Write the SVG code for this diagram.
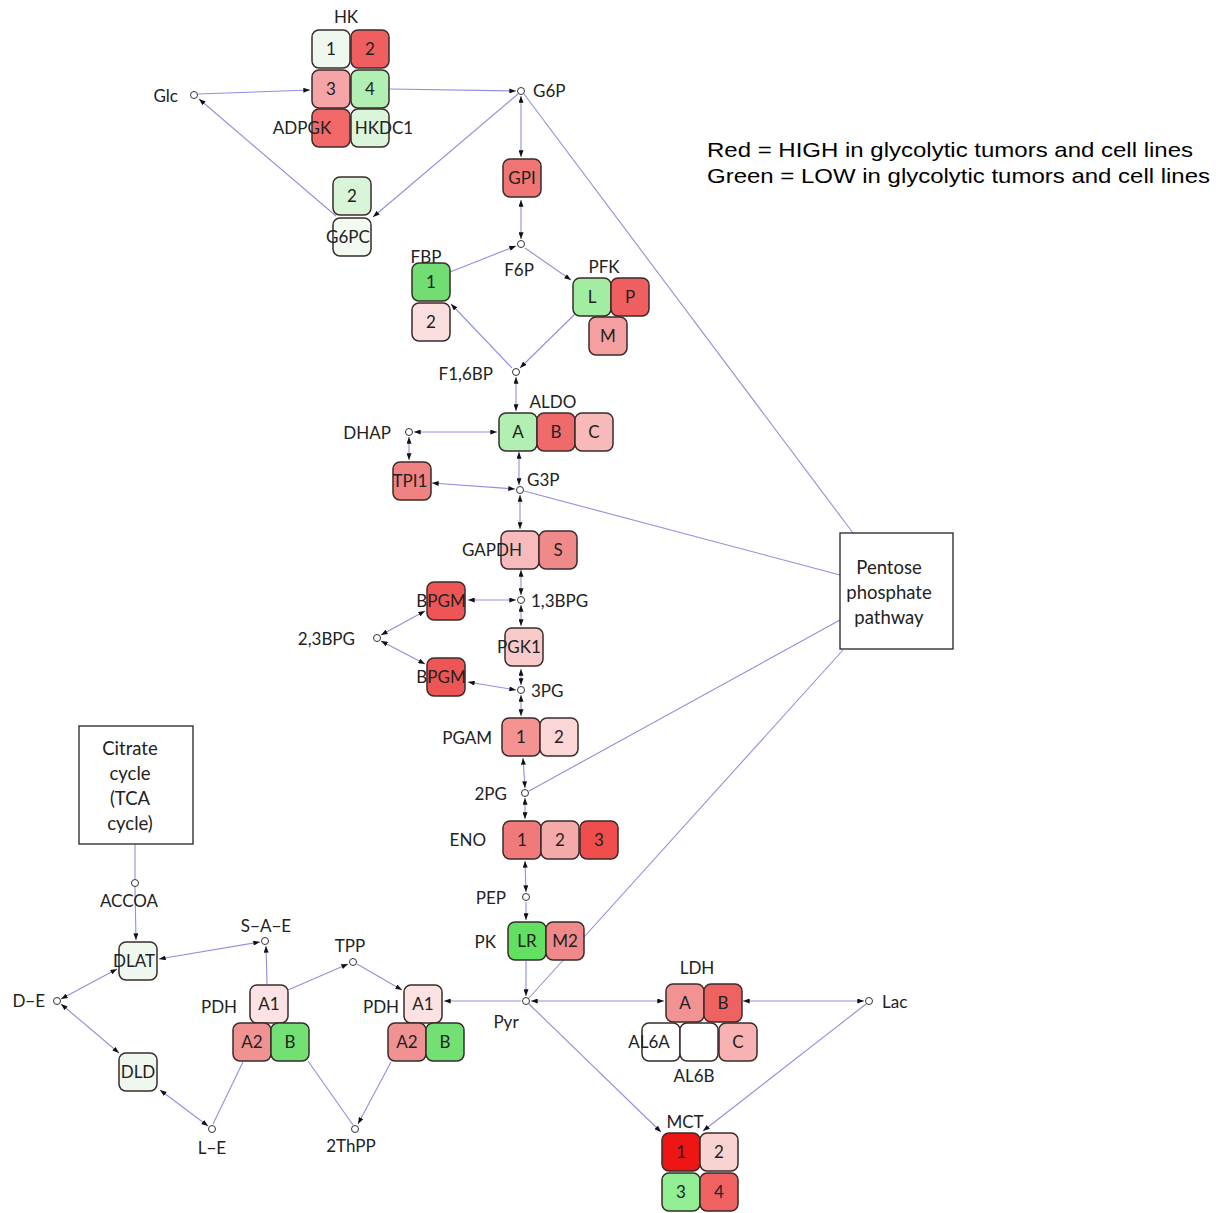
<svg xmlns="http://www.w3.org/2000/svg" width="1229" height="1213" viewBox="0 0 1229 1213">
<style>
.b{stroke:#3a2b2b;stroke-width:1.5}
.t{font-family:Lato,"Liberation Sans",sans-serif;font-size:17px;fill:#222;text-anchor:middle}
.bx{font-size:18.5px}
.s{text-anchor:start}
.n{text-anchor:end}
.c{fill:#fff;stroke:#333;stroke-width:1}
.e{stroke:#8f8fe0;stroke-width:1.1;fill:none}
.a{marker-end:url(#ah)}
.d{marker-end:url(#ah);marker-start:url(#ah)}
.p{fill:#fff;stroke:#222;stroke-width:1.3}
.lg{font-family:"Liberation Sans",Arial,sans-serif;font-size:21px;fill:#000}
</style>
<defs>
<marker id="ah" viewBox="0 0 8 6" refX="8" refY="3" markerWidth="7" markerHeight="5" orient="auto-start-reverse" markerUnits="userSpaceOnUse"><path d="M0,0 L8,3 L0,6 z" fill="#111"/></marker>
</defs>
<rect width="1229" height="1213" fill="#fff"/>
<g id="connectors">
<path class="e a" d="M198,94 L310,90"/>
<path class="e a" d="M390,89 L516,91"/>
<path class="e a" d="M518,94 L373,217"/>
<path class="e a" d="M336,216 L199,99"/>
<path class="e d" d="M521,96 L521,157"/>
<path class="e d" d="M521,200 L521,239"/>
<path class="e a" d="M450,272 L516,246"/>
<path class="e a" d="M525,248 L571,280"/>
<path class="e a" d="M575,314 L520,368"/>
<path class="e a" d="M512,368 L451,304"/>
<path class="e d" d="M516,377 L516,411"/>
<path class="e d" d="M414,432 L497,432"/>
<path class="e d" d="M409,437 L409,460"/>
<path class="e d" d="M519,452 L519,485"/>
<path class="e d" d="M432,483 L515,489"/>
<path class="e d" d="M520,495 L520,529"/>
<path class="e" d="M524,491 L840,575"/>
<path class="e" d="M524,94 L853,533"/>
<path class="e d" d="M521,570 L521,595"/>
<path class="e d" d="M468,600 L516,600"/>
<path class="e d" d="M521,605 L521,626"/>
<path class="e d" d="M381,635 L425,611"/>
<path class="e d" d="M381,641 L425,664"/>
<path class="e d" d="M468,682 L516,690"/>
<path class="e d" d="M521,669 L521,685"/>
<path class="e d" d="M521,695 L521,716"/>
<path class="e d" d="M523,758 L525,788"/>
<path class="e" d="M529,791 L840,620"/>
<path class="e d" d="M525,798 L525,819"/>
<path class="e d" d="M525,861 L526,892"/>
<path class="e a" d="M526,902 L526,920"/>
<path class="e a" d="M526,961 L526,996"/>
<path class="e" d="M529,998 L843,650"/>
<path class="e a" d="M521,1001 L444,1001"/>
<path class="e d" d="M531,1001 L664,1001"/>
<path class="e d" d="M743,1001 L864,1001"/>
<path class="e a" d="M529,1004 L661,1132"/>
<path class="e a" d="M866,1004 L703,1131"/>
<path class="e" d="M135,844 L135,879"/>
<path class="e a" d="M135,887 L136,940"/>
<path class="e d" d="M260,942 L159,959"/>
<path class="e a" d="M267,984 L266,946"/>
<path class="e a" d="M288,990 L348,964"/>
<path class="e a" d="M357,964 L402,990"/>
<path class="e d" d="M61,999 L117,969"/>
<path class="e d" d="M61,1004 L119,1053"/>
<path class="e d" d="M160,1090 L208,1126"/>
<path class="e" d="M243,1062 L213,1124"/>
<path class="e" d="M308,1061 L353,1125"/>
<path class="e a" d="M391,1062 L358,1124"/>
</g>
<g id="metabolites">
<circle class="c" cx="194" cy="95" r="3.5"/><text class="t n" x="178" y="102">Glc</text>
<circle class="c" cx="521" cy="91" r="3.5"/><text class="t s" x="533" y="97">G6P</text>
<circle class="c" cx="521" cy="244" r="3.5"/><text class="t" x="519" y="276">F6P</text>
<circle class="c" cx="516" cy="372" r="3.5"/><text class="t n" x="493" y="380">F1,6BP</text>
<circle class="c" cx="409" cy="432" r="3.5"/><text class="t n" x="391" y="439">DHAP</text>
<circle class="c" cx="520" cy="490" r="3.5"/><text class="t s" x="527" y="486">G3P</text>
<circle class="c" cx="521" cy="600" r="3.5"/><text class="t s" x="531" y="607">1,3BPG</text>
<circle class="c" cx="377" cy="638" r="3.5"/><text class="t n" x="355" y="645">2,3BPG</text>
<circle class="c" cx="521" cy="690" r="3.5"/><text class="t s" x="531" y="697">3PG</text>
<circle class="c" cx="525" cy="793" r="3.5"/><text class="t n" x="507" y="800">2PG</text>
<circle class="c" cx="526" cy="897" r="3.5"/><text class="t n" x="506" y="904">PEP</text>
<circle class="c" cx="526" cy="1001" r="3.5"/><text class="t" x="506" y="1028">Pyr</text>
<circle class="c" cx="869" cy="1001" r="3.5"/><text class="t s" x="882" y="1008">Lac</text>
<circle class="c" cx="135" cy="883" r="3.5"/><text class="t" x="129" y="907">ACCOA</text>
<circle class="c" cx="265" cy="941" r="3.5"/><text class="t" x="266" y="932">S−A−E</text>
<circle class="c" cx="353" cy="962" r="3.5"/><text class="t" x="350" y="952">TPP</text>
<circle class="c" cx="57" cy="1001" r="3.5"/><text class="t n" x="45" y="1007">D−E</text>
<circle class="c" cx="212" cy="1129" r="3.5"/><text class="t" x="212" y="1154">L−E</text>
<circle class="c" cx="355" cy="1129" r="3.5"/><text class="t" x="351" y="1152">2ThPP</text>
</g>
<g id="HK">
<text class="t" x="346" y="23">HK</text>
<rect class="b" x="312" y="30" width="38" height="38" rx="7" fill="#eef8ee"/><text class="t" x="331" y="55">1</text>
<rect class="b" x="351" y="30" width="38" height="38" rx="7" fill="#ef5f5f"/><text class="t" x="370" y="55">2</text>
<rect class="b" x="312" y="70" width="38" height="38" rx="7" fill="#f5a5a5"/><text class="t" x="331" y="95">3</text>
<rect class="b" x="351" y="70" width="38" height="38" rx="7" fill="#b2efb2"/><text class="t" x="370" y="95">4</text>
<rect class="b" x="312" y="109" width="38" height="38" rx="7" fill="#f06868"/><text class="t" x="302" y="134">ADPGK</text>
<rect class="b" x="351" y="109" width="38" height="38" rx="7" fill="#daf5da"/><text class="t" x="384" y="134">HKDC1</text>
</g>
<g id="G6PC">
<rect class="b" x="333" y="177" width="38" height="38" rx="7" fill="#d9f5d9"/><text class="t" x="352" y="202">2</text>
<rect class="b" x="333" y="218" width="38" height="38" rx="7" fill="#f2faf2"/><text class="t" x="348" y="243">G6PC</text>
</g>
<g id="GPI">
<rect class="b" x="503" y="159" width="38" height="38" rx="7" fill="#f07575"/><text class="t" x="522" y="184">GPI</text>
</g>
<g id="FBP">
<text class="t" x="426" y="263">FBP</text>
<rect class="b" x="412" y="263" width="38" height="38" rx="7" fill="#72dd72"/><text class="t" x="431" y="288">1</text>
<rect class="b" x="412" y="303" width="38" height="38" rx="7" fill="#fbdede"/><text class="t" x="431" y="328">2</text>
</g>
<g id="PFK">
<text class="t" x="604" y="273">PFK</text>
<rect class="b" x="573" y="278" width="38" height="38" rx="7" fill="#a3eda3"/><text class="t" x="592" y="303">L</text>
<rect class="b" x="611" y="278" width="38" height="38" rx="7" fill="#f05f5f"/><text class="t" x="630" y="303">P</text>
<rect class="b" x="589" y="317" width="38" height="38" rx="7" fill="#f5a0a0"/><text class="t" x="608" y="342">M</text>
</g>
<g id="ALDO">
<text class="t" x="553" y="408">ALDO</text>
<rect class="b" x="499" y="413" width="38" height="38" rx="7" fill="#b2efb2"/><text class="t" x="518" y="438">A</text>
<rect class="b" x="537" y="413" width="38" height="38" rx="7" fill="#ef6b6b"/><text class="t" x="556" y="438">B</text>
<rect class="b" x="575" y="413" width="38" height="38" rx="7" fill="#f8b9b9"/><text class="t" x="594" y="438">C</text>
</g>
<g id="TPI1">
<rect class="b" x="393" y="462" width="38" height="38" rx="7" fill="#f08282"/><text class="t" x="410" y="487">TPI1</text>
</g>
<g id="GAPDH">
<rect class="b" x="501" y="531" width="38" height="38" rx="7" fill="#f8baba"/><text class="t" x="492" y="556">GAPDH</text>
<rect class="b" x="539" y="531" width="38" height="38" rx="7" fill="#f08a8a"/><text class="t" x="558" y="556">S</text>
</g>
<g id="BPGM1">
<rect class="b" x="427" y="582" width="38" height="38" rx="7" fill="#ef5555"/><text class="t" x="441" y="607">BPGM</text>
</g>
<g id="PGK1">
<rect class="b" x="505" y="628" width="38" height="38" rx="7" fill="#f9caca"/><text class="t" x="519" y="653">PGK1</text>
</g>
<g id="BPGM2">
<rect class="b" x="427" y="658" width="38" height="38" rx="7" fill="#ef5555"/><text class="t" x="441" y="683">BPGM</text>
</g>
<g id="PGAM">
<text class="t n" x="492" y="744">PGAM</text>
<rect class="b" x="502" y="718" width="38" height="38" rx="7" fill="#f59292"/><text class="t" x="521" y="743">1</text>
<rect class="b" x="540" y="718" width="38" height="38" rx="7" fill="#fbd6d6"/><text class="t" x="559" y="743">2</text>
</g>
<g id="ENO">
<text class="t n" x="486" y="846">ENO</text>
<rect class="b" x="503" y="821" width="38" height="38" rx="7" fill="#f07a7a"/><text class="t" x="522" y="846">1</text>
<rect class="b" x="541" y="821" width="38" height="38" rx="7" fill="#f5aaaa"/><text class="t" x="560" y="846">2</text>
<rect class="b" x="580" y="821" width="38" height="38" rx="7" fill="#ef4c4c"/><text class="t" x="599" y="846">3</text>
</g>
<g id="PK">
<text class="t n" x="496" y="948">PK</text>
<rect class="b" x="508" y="922" width="38" height="38" rx="7" fill="#62e062"/><text class="t" x="527" y="947">LR</text>
<rect class="b" x="546" y="922" width="38" height="38" rx="7" fill="#f08a8a"/><text class="t" x="565" y="947">M2</text>
</g>
<g id="PDH1">
<text class="t" x="219" y="1013">PDH</text>
<rect class="b" x="250" y="985" width="38" height="38" rx="7" fill="#fce2e2"/><text class="t" x="269" y="1010">A1</text>
<rect class="b" x="233" y="1023" width="38" height="38" rx="7" fill="#f09292"/><text class="t" x="252" y="1048">A2</text>
<rect class="b" x="271" y="1023" width="38" height="38" rx="7" fill="#72e072"/><text class="t" x="290" y="1048">B</text>
</g>
<g id="PDH2">
<text class="t" x="381" y="1013">PDH</text>
<rect class="b" x="404" y="985" width="38" height="38" rx="7" fill="#fce2e2"/><text class="t" x="423" y="1010">A1</text>
<rect class="b" x="388" y="1023" width="38" height="38" rx="7" fill="#f09292"/><text class="t" x="407" y="1048">A2</text>
<rect class="b" x="426" y="1023" width="38" height="38" rx="7" fill="#72e072"/><text class="t" x="445" y="1048">B</text>
</g>
<g id="DLAT">
<rect class="b" x="119" y="942" width="38" height="38" rx="7" fill="#eff8ef"/><text class="t" x="134" y="967">DLAT</text>
</g>
<g id="DLD">
<rect class="b" x="119" y="1053" width="38" height="38" rx="7" fill="#eff8ef"/><text class="t" x="138" y="1078">DLD</text>
</g>
<g id="LDH">
<text class="t" x="697" y="974">LDH</text>
<rect class="b" x="666" y="984" width="38" height="38" rx="7" fill="#f29292"/><text class="t" x="685" y="1009">A</text>
<rect class="b" x="704" y="984" width="38" height="38" rx="7" fill="#ef6262"/><text class="t" x="723" y="1009">B</text>
<rect class="b" x="642" y="1023" width="38" height="38" rx="7" fill="#fff"/><text class="t" x="649" y="1048">AL6A</text>
<rect class="b" x="680" y="1023" width="38" height="38" rx="7" fill="#fff"/>
<rect class="b" x="719" y="1023" width="38" height="38" rx="7" fill="#f8b2b2"/><text class="t" x="738" y="1048">C</text>
<text class="t" x="694" y="1082">AL6B</text>
</g>
<g id="MCT">
<text class="t" x="685" y="1128">MCT</text>
<rect class="b" x="662" y="1133" width="38" height="38" rx="7" fill="#ee1515"/><text class="t" x="681" y="1158">1</text>
<rect class="b" x="700" y="1133" width="38" height="38" rx="7" fill="#f9d2d2"/><text class="t" x="719" y="1158">2</text>
<rect class="b" x="662" y="1173" width="38" height="38" rx="7" fill="#92ee92"/><text class="t" x="681" y="1198">3</text>
<rect class="b" x="700" y="1173" width="38" height="38" rx="7" fill="#f06262"/><text class="t" x="719" y="1198">4</text>
</g>
<g id="citrate">
<rect class="p" x="79" y="726" width="114" height="118"/>
<text class="t bx" x="130" y="755">Citrate</text>
<text class="t bx" x="130" y="780">cycle</text>
<text class="t bx" x="130" y="805">(TCA</text>
<text class="t bx" x="130" y="830">cycle)</text>
</g>
<g id="pentose">
<rect class="p" x="840" y="533" width="113" height="116"/>
<text class="t bx" x="889" y="574">Pentose</text>
<text class="t bx" x="889" y="599">phosphate</text>
<text class="t bx" x="889" y="624">pathway</text>
</g>
<g id="legend">
<text class="lg" x="707" y="157" textLength="486" lengthAdjust="spacingAndGlyphs">Red = HIGH in glycolytic tumors and cell lines</text>
<text class="lg" x="707" y="183" textLength="503" lengthAdjust="spacingAndGlyphs">Green = LOW in glycolytic tumors and cell lines</text>
</g>
</svg>
